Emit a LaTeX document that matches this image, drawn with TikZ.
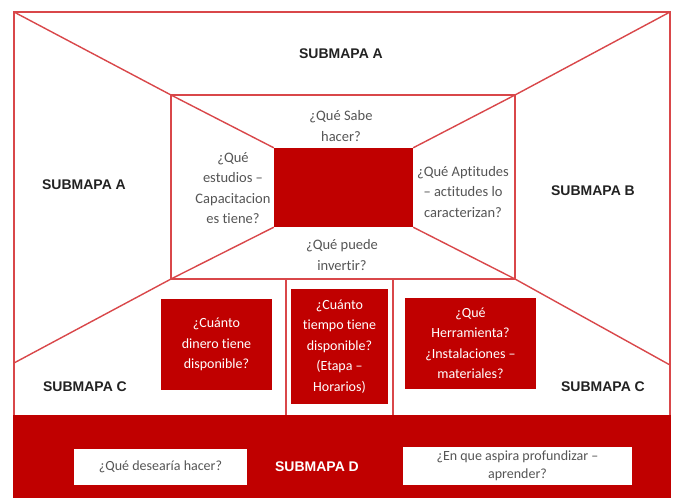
\documentclass[tikz,border=0pt]{standalone}
\usepackage{fontspec}
\setmainfont{Carlito}[Ligatures=NoCommon]
\newfontfamily\labfont{Liberation Sans}
\definecolor{dred}{HTML}{C00000}
\definecolor{lred}{HTML}{D9474A}
\definecolor{qgray}{HTML}{555555}
\definecolor{lgray}{HTML}{222222}
\begin{document}
\begin{tikzpicture}[x=1pt,y=-1pt,
  frame/.style={draw=lred,line width=1.4pt},
  redbox/.style={fill=dred,draw=none,inner sep=0pt,text=white,align=center,
    font=\fontsize{14}{20.5}\selectfont},
  whitebox/.style={fill=white,draw=none,inner sep=0pt,text=qgray,align=center,
    font=\fontsize{14}{18}\selectfont},
  question/.style={text=qgray,align=center,inner sep=0pt,
    font=\fontsize{14.5}{20.5}\selectfont},
  sublabel/.style={text=lgray,inner sep=0pt,
    font=\labfont\bfseries\fontsize{14}{16}\selectfont}]
\useasboundingbox (0,0) rectangle (675,498);
\fill[white] (0,0) rectangle (675,498);
% corners
\coordinate (OTL) at (14,12);
\coordinate (OTR) at (670,12);
\coordinate (OBL) at (14,415);
\coordinate (OBR) at (670,415);
\coordinate (ITL) at (171,95);
\coordinate (ITR) at (515,95);
\coordinate (IBL) at (171,279);
\coordinate (IBR) at (515,279);
\coordinate (LL) at (14,363);
\coordinate (LR) at (670,365);
\coordinate (M1T) at (286,279);
\coordinate (M1B) at (286,415);
\coordinate (M2T) at (393,279);
\coordinate (M2B) at (393,415);
% central red box
\node[redbox,minimum width=139pt,minimum height=79pt] (core) at (343.5,187.5) {};
% frame lines
\draw[frame] (OBL) -- (OTL) -- (OTR) -- (OBR);
\draw[frame] (ITL) rectangle (IBR);
\draw[frame] (OTL) -- (ITL);
\draw[frame] (OTR) -- (ITR);
\draw[frame] (IBL) -- (LL);
\draw[frame] (IBR) -- (LR);
\draw[frame] (ITL) -- (core.north west);
\draw[frame] (ITR) -- (core.north east);
\draw[frame] (IBL) -- (core.south west);
\draw[frame] (IBR) -- (core.south east);
\draw[frame] (M1T) -- (M1B);
\draw[frame] (M2T) -- (M2B);
% bottom band
\fill[dred] (13.3,415) rectangle (670.7,498);
% red boxes
\node[redbox,minimum width=111pt,minimum height=91pt] (money) at (216.5,344.5)
  {¿Cuánto\\dinero tiene\\disponible?};
\node[redbox,minimum width=97pt,minimum height=115pt] (time) at (339.5,346.5)
  {¿Cuánto\\tiempo tiene\\disponible?\\(Etapa –\\Horarios)};
\node[redbox,minimum width=131pt,minimum height=91pt] (tools) at (470.5,343.5)
  {¿Qué\\Herramienta?\\¿Instalaciones –\\materiales?};
% questions in inner rectangle
\node[question] (sabe) at (341,126) {¿Qué Sabe\\hacer?};
\node[question] (estudios) at (233,188) {¿Qué\\estudios –\\Capacitacion\\es tiene?};
\node[question] (aptitudes) at (463,192) {¿Qué Aptitudes\\– actitudes lo\\caracterizan?};
\node[question] (invertir) at (342,255) {¿Qué puede\\invertir?};
% submapa labels
\node[sublabel] (sa1) at (341,54) {SUBMAPA A};
\node[sublabel] (sa2) at (84,185) {SUBMAPA A};
\node[sublabel] (sb) at (593,191) {SUBMAPA B};
\node[sublabel] (sc1) at (85,387) {SUBMAPA C};
\node[sublabel] (sc2) at (603,387) {SUBMAPA C};
% bottom band content
\node[whitebox,minimum width=173pt,minimum height=36pt] (desea) at (160.5,467)
  {¿Qué desearía hacer?};
\node[whitebox,minimum width=229pt,minimum height=38pt] (aspira) at (517.5,466)
  {¿En que aspira profundizar –\\aprender?};
\node[sublabel,text=white] (sd) at (317,467) {SUBMAPA D};
\end{tikzpicture}
\end{document}
